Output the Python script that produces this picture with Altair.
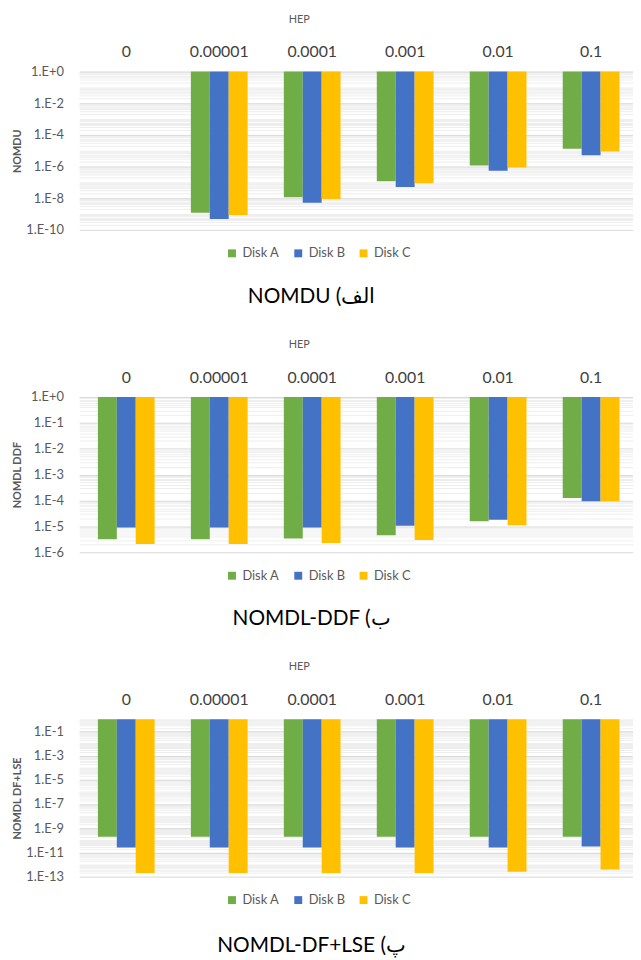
import altair as alt
import pandas as pd

hep = ["0", "0.00001", "0.0001", "0.001", "0.01", "0.1"]
disks = ["Disk A", "Disk B", "Disk C"]
colors = ["#70AD47", "#4472C4", "#FFC000"]

# Panel 1: NOMDU (no bars at HEP = 0)
nomdu_a = [None, 1.2e-9, 1.15e-8, 1.2e-7, 1.15e-6, 1.33e-5]
nomdu_b = [None, 4.9e-10, 5.1e-9, 5.1e-8, 5.4e-7, 5.1e-6]
nomdu_c = [None, 8.7e-10, 9.0e-9, 8.7e-8, 8.7e-7, 9.1e-6]

# Panel 2: NOMDL DDF
ddf_a = [3.2e-6, 3.2e-6, 3.4e-6, 4.5e-6, 1.58e-5, 1.26e-4]
ddf_b = [9.1e-6, 9.1e-6, 9.1e-6, 1.05e-5, 1.8e-5, 9.4e-5]
ddf_c = [2.1e-6, 2.1e-6, 2.3e-6, 3.0e-6, 1.1e-5, 9.4e-5]

# Panel 3: NOMDL DF+LSE
lse_a = [2.0e-10, 2.0e-10, 2.0e-10, 2.0e-10, 2.0e-10, 2.0e-10]
lse_b = [2.6e-11, 2.6e-11, 2.6e-11, 2.6e-11, 2.6e-11, 3.1e-11]
lse_c = [1.95e-13, 1.95e-13, 1.95e-13, 1.95e-13, 2.5e-13, 3.9e-13]

FONT = "Lato"
GREY = "#595959"


def panel(a, b, c, ytitle, lo_exp, major_exps, height, caption, cap_offset):
    rows = []
    for i, h in enumerate(hep):
        for d, vals in zip(disks, (a, b, c)):
            if vals[i] is not None:
                rows.append({"HEP": h, "disk": d, "value": vals[i]})
    df = pd.DataFrame(rows)
    major_vals = [10.0 ** e for e in major_exps]
    minor_vals = [10.0 ** 0] + [
        m * 10.0 ** e for e in range(lo_exp, 0) for m in range(1, 10)
        if not (m == 1 and e in major_exps)
    ]
    yscale = alt.Scale(type="log", domain=[10.0 ** lo_exp, 1], nice=False)

    minor = alt.Chart(df).mark_point(opacity=0).encode(
        y=alt.Y("value:Q", scale=yscale,
                axis=alt.Axis(orient="right", values=minor_vals, grid=True,
                              gridColor="#eeeeee", labels=False, ticks=False,
                              domain=False, title=None, minExtent=0, maxExtent=0))
    )
    bars = alt.Chart(df).mark_bar().encode(
        x=alt.X("HEP:N", sort=hep,
                scale=alt.Scale(domain=hep, paddingInner=0.39, paddingOuter=0.1735,
                                align=0.58),
                axis=alt.Axis(orient="top", title="HEP", labelAngle=0, ticks=False,
                              tickSize=0, domain=False, grid=False, labelFontSize=16,
                              labelColor="#404040", labelPadding=12, labelFont=FONT,
                              titleFont=FONT, titleFontSize=11, titleFontWeight="normal",
                              titleColor=GREY, titlePadding=20, titleX=222)),
        xOffset=alt.XOffset("disk:N", sort=disks, scale=alt.Scale(domain=disks)),
        y=alt.Y("value:Q", scale=yscale,
                axis=alt.Axis(orient="left", values=major_vals, grid=True,
                              gridColor="#d9d9d9", ticks=False, tickSize=0, domain=False,
                              labelExpr="datum.value >= 1 ? '1.E+0' : '1.E' + toString(round(log(datum.value)/LN10))",
                              labelFont=FONT, labelFontSize=13, labelColor=GREY,
                              labelPadding=16, minExtent=48, maxExtent=48,
                              title=ytitle, titleFont=FONT, titleFontSize=11,
                              titleFontWeight="bold", titleColor=GREY, titlePadding=9)),
        y2=alt.Y2Datum(1),
        color=alt.Color("disk:N", scale=alt.Scale(domain=disks, range=colors),
                        legend=alt.Legend(orient="none", legendX=148, legendY=height + 17,
                                          direction="horizontal", title=None,
                                          symbolType="square", symbolSize=64,
                                          symbolStrokeWidth=0, labelFont=FONT,
                                          labelFontSize=13, labelColor=GREY,
                                          columnPadding=12, labelOffset=4)),
    )
    return alt.layer(minor, bars).resolve_axis(y="independent").properties(
        width=560, height=height,
        title=alt.TitleParams(text=caption, orient="bottom", anchor="middle",
                              fontSize=21, font=FONT, fontWeight="normal",
                              color="#000000", offset=cap_offset, dx=-45),
    )


p1 = panel(nomdu_a, nomdu_b, nomdu_c, "NOMDU", -10, [0, -2, -4, -6, -8, -10], 160,
           "NOMDU (الف", 26)
p2 = panel(ddf_a, ddf_b, ddf_c, "NOMDL DDF", -6, [0, -1, -2, -3, -4, -5, -6], 157,
           "NOMDL-DDF (ب", 26)
p3 = panel(lse_a, lse_b, lse_c, "NOMDL DF+LSE", -13, [-1, -3, -5, -7, -9, -11, -13], 159,
           "NOMDL-DF+LSE (پ", 28)

chart = alt.vconcat(p1, p2, p3, spacing=32).resolve_legend(color="independent").resolve_scale(
    color="independent"
).properties(
    padding={"top": 0, "left": 4, "right": 0, "bottom": 0}
).configure_view(stroke=None)

chart.save("out.html", embed_options={"renderer": "svg", "actions": False})
